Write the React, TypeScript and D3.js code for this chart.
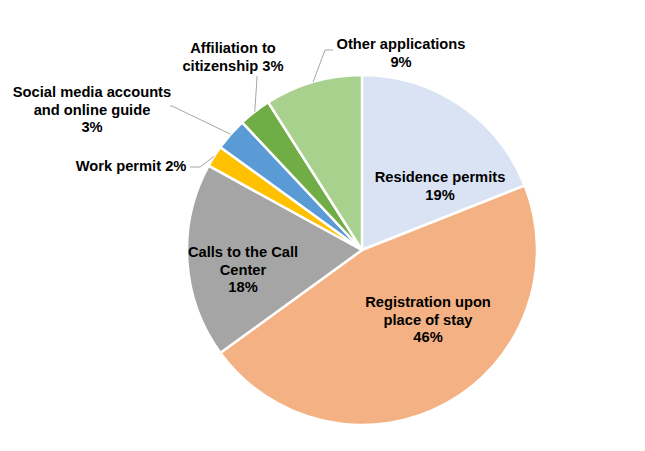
import * as d3 from 'd3';

const categories = [
  'Residence permits',
  'Registration upon place of stay',
  'Calls to the Call Center',
  'Work permit',
  'Social media accounts and online guide',
  'Affiliation to citizenship',
  'Other applications',
];
const values = [19, 46, 18, 2, 3, 3, 9];
const colors = ['#dae3f3', '#f4b183', '#a5a5a5', '#ffc000', '#5b9bd5', '#70ad47', '#a9d18e'];

// label lines as drawn in the reference
const labelLines = [
  ['Residence permits', '19%'],
  ['Registration upon', 'place of stay', '46%'],
  ['Calls to the Call', 'Center', '18%'],
  ['Work permit 2%'],
  ['Social media accounts', 'and online guide', '3%'],
  ['Affiliation to', 'citizenship 3%'],
  ['Other applications', '9%'],
];

const W = 645;
const H = 451;
const cx = 362;
const cy = 250;
const R = 175;

// label centres (x, first baseline y) and leader elbows for outside labels
const labelPos: [number, number][] = [
  [440, 182],
  [428, 307],
  [243, 257],
  [131, 171],
  [92, 97],
  [233, 53],
  [401, 49],
];
const leaders: ([number, number][] | null)[] = [
  null,
  null,
  null,
  [[190, 167], [200, 167]],
  [[170, 106], [172, 106]],
  [[257, 76], [257, 78]],
  [[333, 50], [325, 50]],
];

export default function App() {
  const pie = d3.pie<number>().sort(null).value((d) => d);
  const arcs = pie(values);
  const arc = d3.arc<d3.PieArcDatum<number>>().innerRadius(0).outerRadius(R);
  const edge = d3.arc<d3.PieArcDatum<number>>().innerRadius(R).outerRadius(R);

  return (
    <svg width={W} height={H} style={{ position: 'absolute', left: 0, top: 0, background: '#fff' }}>
      <g transform={`translate(${cx},${cy})`}>
        {arcs.map((a, i) => (
          <path key={categories[i]} d={arc(a) ?? ''} fill={colors[i]} stroke="#fff" strokeWidth={2.5} strokeLinejoin="round" />
        ))}
      </g>
      {arcs.map((a, i) => {
        const l = leaders[i];
        if (!l) return null;
        const [ex, ey] = edge.centroid(a);
        const pts = [...l, [cx + ex, cy + ey]];
        return (
          <polyline
            key={'l' + i}
            points={pts.map((p) => p.join(',')).join(' ')}
            fill="none"
            stroke="#a6a6a6"
            strokeWidth={1}
          />
        );
      })}
      {labelLines.map((lines, i) => (
        <text
          key={'t' + i}
          x={labelPos[i][0]}
          y={labelPos[i][1]}
          textAnchor="middle"
          fontFamily="'Liberation Sans', Arial, sans-serif"
          fontWeight="bold"
          fontSize={14.7}
          fill="#000"
        >
          {lines.map((s, j) => (
            <tspan key={j} x={labelPos[i][0]} dy={j === 0 ? 0 : 17.5}>
              {s}
            </tspan>
          ))}
        </text>
      ))}
    </svg>
  );
}
